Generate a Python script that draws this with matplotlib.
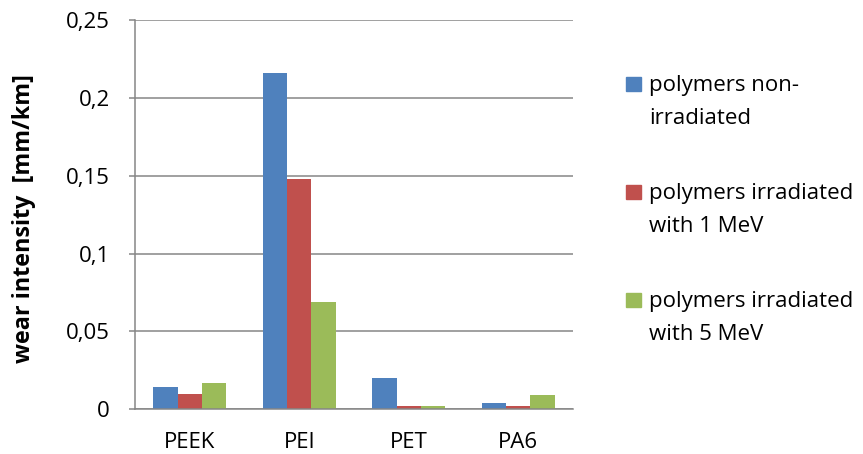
import matplotlib
matplotlib.use("Agg")
import matplotlib.pyplot as plt
from matplotlib.patches import Rectangle
from matplotlib.ticker import FuncFormatter
import numpy as np

plt.rcParams['font.family'] = ['Open Sans', 'DejaVu Sans']

categories = ["PEEK", "PEI", "PET", "PA6"]
series_names = ["polymers non-\nirradiated",
                "polymers irradiated\nwith 1 MeV",
                "polymers irradiated\nwith 5 MeV"]
non_irradiated = [0.014, 0.216, 0.020, 0.004]
irradiated_1mev = [0.010, 0.148, 0.002, 0.002]
irradiated_5mev = [0.017, 0.069, 0.002, 0.009]
y_ticks = [0, 0.05, 0.10, 0.15, 0.20, 0.25]

colors = ["#4F81BD", "#C0504D", "#9BBB59"]
grid_col = "#868686"
fs = 16

fig = plt.figure(figsize=(8.63, 4.54), dpi=100)
ax = fig.add_axes([135 / 863, 1 - 409.3 / 454, 438 / 863, 389.3 / 454])

x = np.arange(len(categories))
width = 0.222
series = [non_irradiated, irradiated_1mev, irradiated_5mev]
for i, (vals, col) in enumerate(zip(series, colors)):
    ax.bar(x + (i - 1) * width, vals, width, color=col, zorder=3,
           edgecolor="none")

ax.set_xlim(-0.5, len(categories) - 0.5)
ax.set_ylim(0, 0.25)
ax.set_yticks(y_ticks)
ax.yaxis.set_major_formatter(
    FuncFormatter(lambda v, _: ("%g" % round(v, 4)).replace(".", ",")))
ax.set_xticks(x)
ax.set_xticklabels(categories)

ax.grid(axis="y", color=grid_col, linewidth=1.1, zorder=0)
for s in ["top", "right"]:
    ax.spines[s].set_visible(False)
for s in ["left", "bottom"]:
    ax.spines[s].set_color(grid_col)
    ax.spines[s].set_linewidth(1.1)
ax.spines["bottom"].set_zorder(4)

ax.tick_params(axis="y", length=4, width=1.1, color=grid_col, pad=14,
               labelsize=fs, labelcolor="#000000")
ax.tick_params(axis="x", length=0, pad=16, labelsize=fs,
               labelcolor="#000000")

fig.text(24 / 863, 1 - 219 / 454, "wear intensity  [mm/km]", rotation=90,
         ha="center", va="center", fontsize=16.8, fontweight="bold")

# legend: colour square beside the first line of each two-line label
baselines = [91, 198.5, 306.5]
line_step = 33
for base, name, col in zip(baselines, series_names, colors):
    fig.patches.append(Rectangle((626 / 863, 1 - base / 454),
                                 15 / 863, 14 / 454, color=col,
                                 transform=fig.transFigure, figure=fig))
    for k, line in enumerate(name.split("\n")):
        fig.text(649 / 863, 1 - (base + k * line_step) / 454, line,
                 ha="left", va="baseline", fontsize=fs)

fig.savefig("out.png", dpi=100)
